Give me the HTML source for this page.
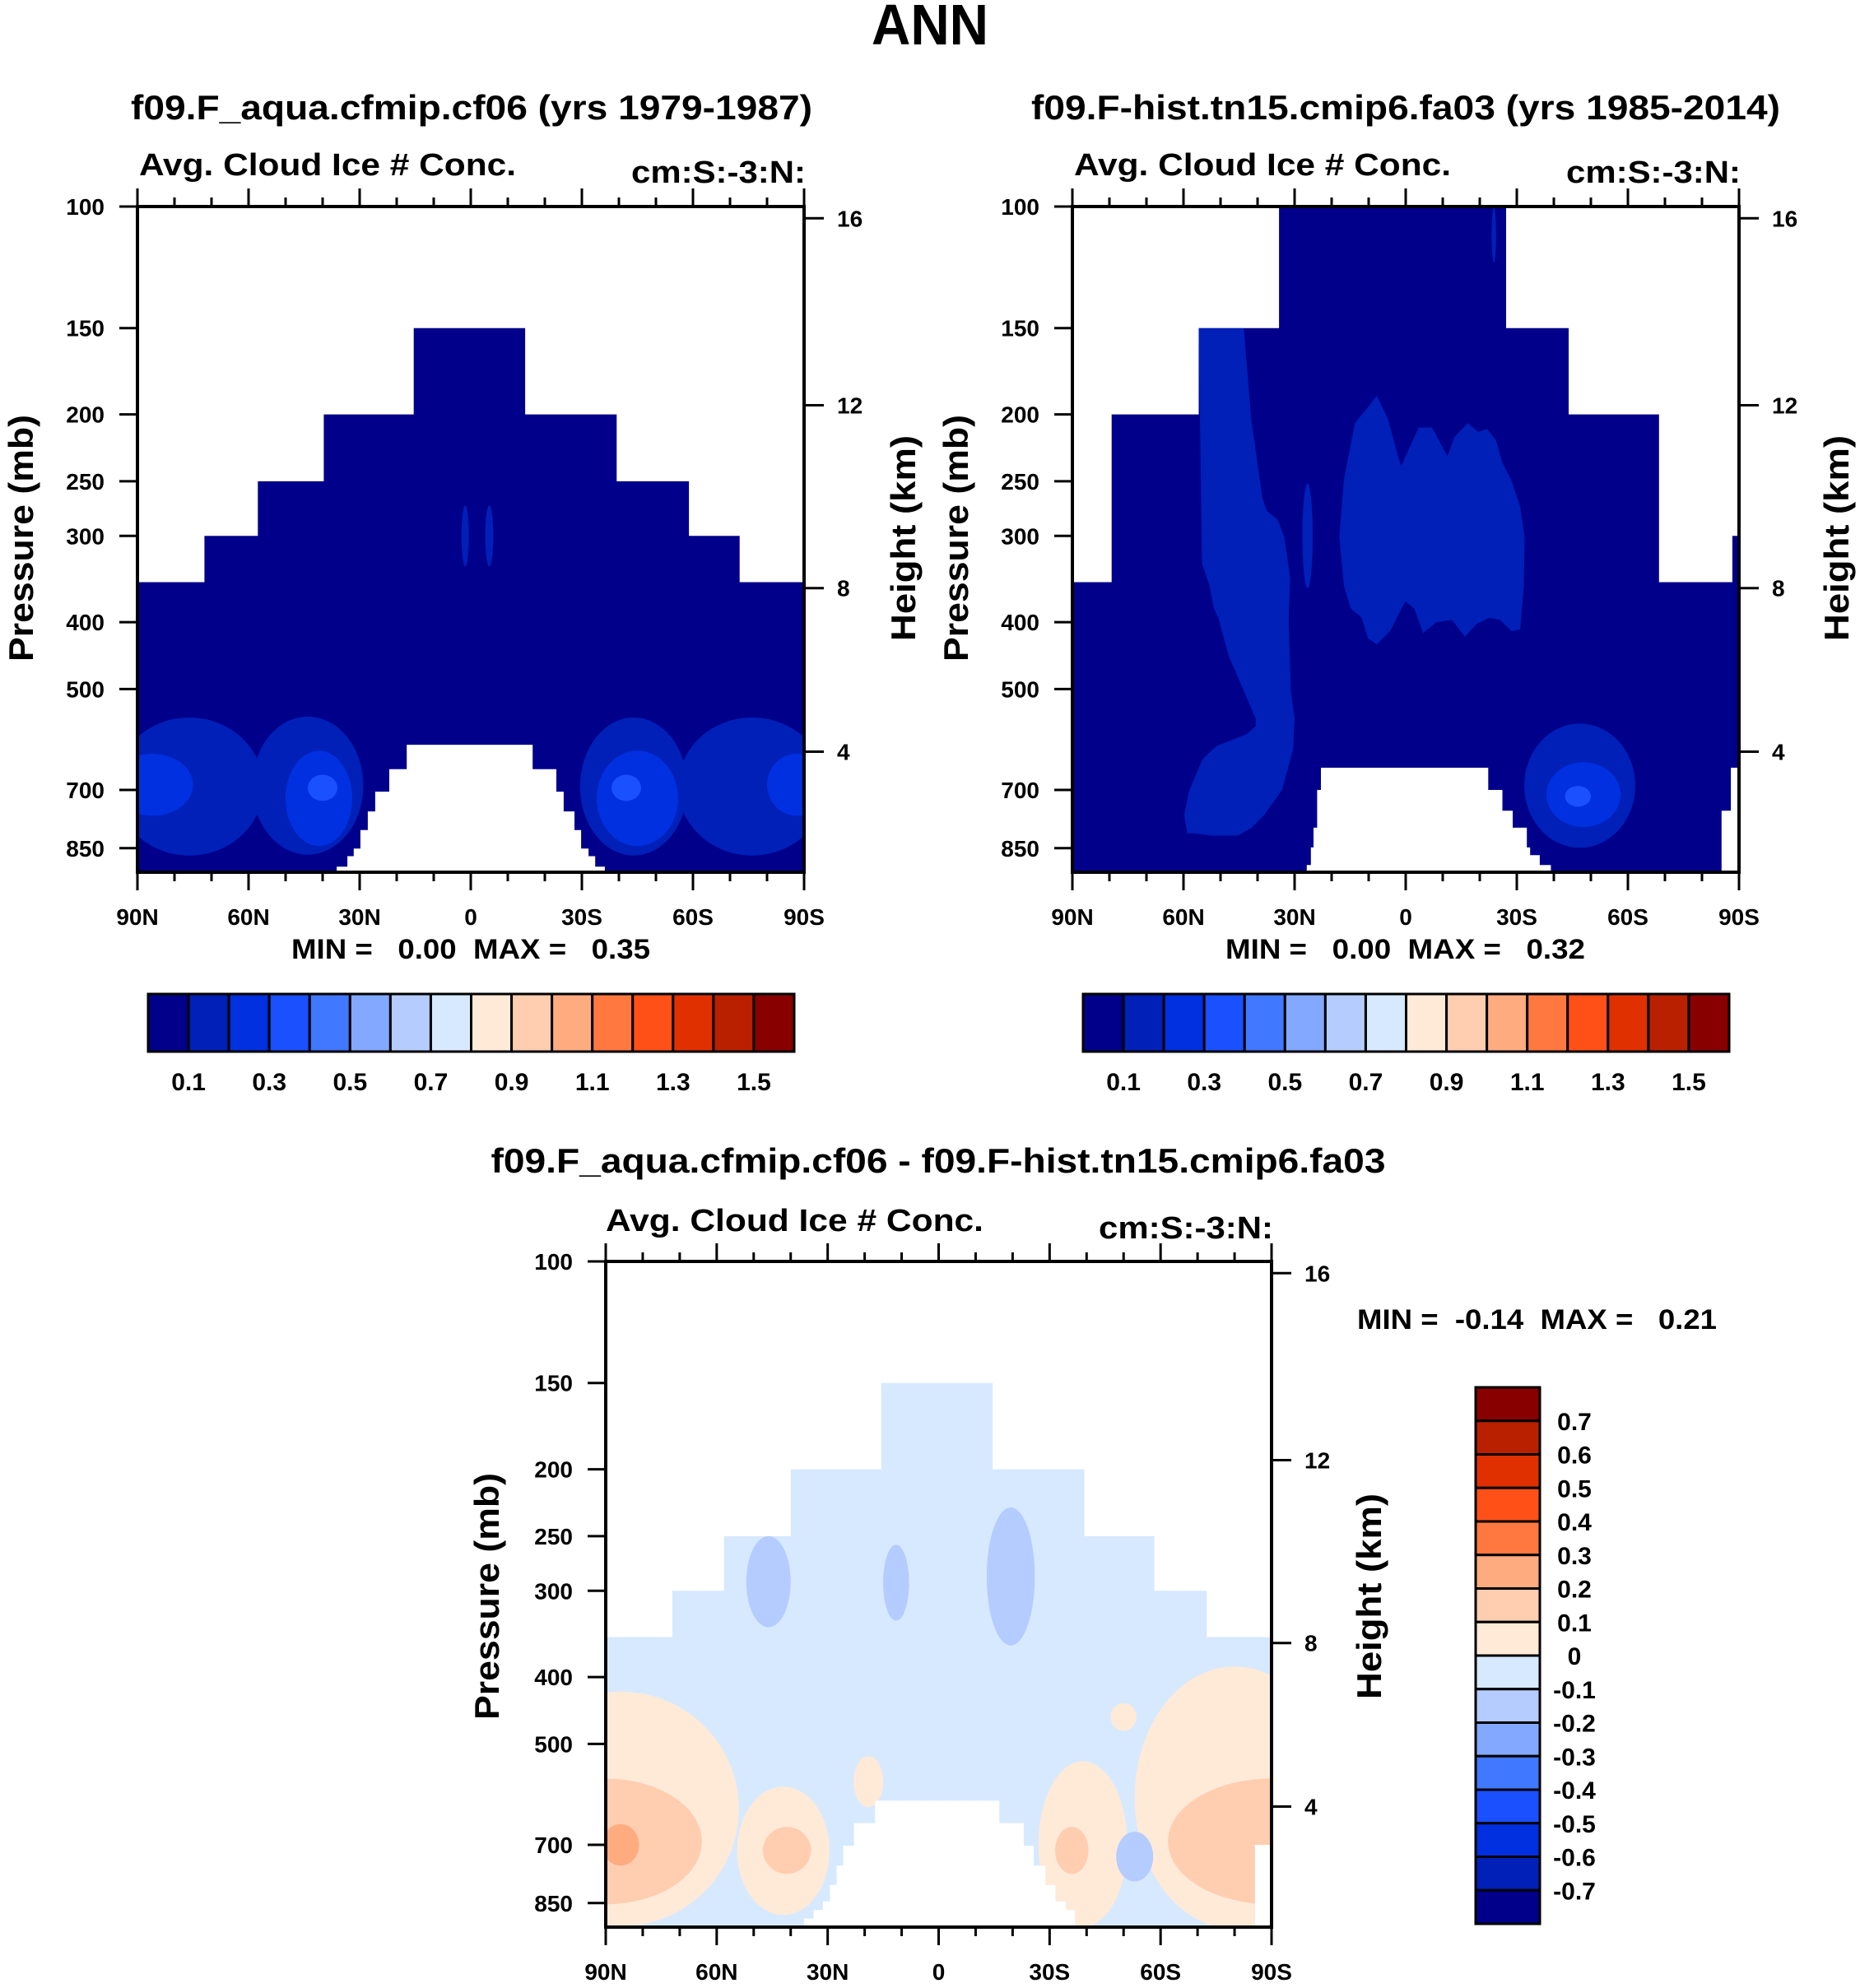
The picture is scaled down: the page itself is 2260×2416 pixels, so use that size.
<!DOCTYPE html>
<html><head><meta charset="utf-8"><style>
html,body{margin:0;padding:0;background:#fff}
svg{display:block}
text{font-family:"Liberation Sans",Arial,sans-serif;font-weight:bold;fill:#000;white-space:pre}
</style></head><body>
<svg id="fig" width="2260" height="2416" viewBox="0 0 2260 2416" xmlns="http://www.w3.org/2000/svg">
<rect x="0" y="0" width="2260" height="2416" fill="#fff"/>
<text x="1130" y="54" font-size="70" text-anchor="middle" textLength="142" lengthAdjust="spacingAndGlyphs">ANN</text>

<text x="573" y="145" font-size="42" text-anchor="middle" textLength="828" lengthAdjust="spacingAndGlyphs">f09.F_aqua.cfmip.cf06 (yrs 1979-1987)</text>
<text x="169" y="213" font-size="38" textLength="458" lengthAdjust="spacingAndGlyphs">Avg. Cloud Ice # Conc.</text>
<text x="979" y="222" font-size="38" text-anchor="end" textLength="212" lengthAdjust="spacingAndGlyphs">cm:S:-3:N:</text>
<text transform="translate(40,654) rotate(-90)" font-size="42" text-anchor="middle" textLength="300" lengthAdjust="spacingAndGlyphs">Pressure (mb)</text>
<text transform="translate(1112,654) rotate(-90)" font-size="42" text-anchor="middle" textLength="250" lengthAdjust="spacingAndGlyphs">Height (km)</text>
<text x="354" y="1165" font-size="34" textLength="436" lengthAdjust="spacingAndGlyphs">MIN =   0.00  MAX =   0.35</text>

<text x="1708" y="145" font-size="42" text-anchor="middle" textLength="910" lengthAdjust="spacingAndGlyphs">f09.F-hist.tn15.cmip6.fa03 (yrs 1985-2014)</text>
<text x="1305" y="213" font-size="38" textLength="458" lengthAdjust="spacingAndGlyphs">Avg. Cloud Ice # Conc.</text>
<text x="2115" y="222" font-size="38" text-anchor="end" textLength="212" lengthAdjust="spacingAndGlyphs">cm:S:-3:N:</text>
<text transform="translate(1176,654) rotate(-90)" font-size="42" text-anchor="middle" textLength="300" lengthAdjust="spacingAndGlyphs">Pressure (mb)</text>
<text transform="translate(2246,654) rotate(-90)" font-size="42" text-anchor="middle" textLength="250" lengthAdjust="spacingAndGlyphs">Height (km)</text>
<text x="1489" y="1165" font-size="34" textLength="437" lengthAdjust="spacingAndGlyphs">MIN =   0.00  MAX =   0.32</text>

<text x="1140" y="1425" font-size="42" text-anchor="middle" textLength="1087" lengthAdjust="spacingAndGlyphs">f09.F_aqua.cfmip.cf06 - f09.F-hist.tn15.cmip6.fa03</text>
<text x="736" y="1496" font-size="38" textLength="459" lengthAdjust="spacingAndGlyphs">Avg. Cloud Ice # Conc.</text>
<text x="1547" y="1505" font-size="38" text-anchor="end" textLength="212" lengthAdjust="spacingAndGlyphs">cm:S:-3:N:</text>
<text transform="translate(606,1940) rotate(-90)" font-size="42" text-anchor="middle" textLength="300" lengthAdjust="spacingAndGlyphs">Pressure (mb)</text>
<text transform="translate(1678,1940) rotate(-90)" font-size="42" text-anchor="middle" textLength="250" lengthAdjust="spacingAndGlyphs">Height (km)</text>
<text x="1649" y="1615" font-size="34" textLength="437" lengthAdjust="spacingAndGlyphs">MIN =  -0.14  MAX =   0.21</text>
<g id="marks"></g>
</svg>
<script>
const PAL=['#00008a','#0020b8','#0030e0','#1a50ff','#4078ff','#82a8ff','#b4ccff','#d6e9ff','#ffead8','#ffcdb0','#ffab80','#ff7840','#ff5018','#e03000','#b82000','#880000'];
const pTicks=[100,150,200,250,300,400,500,700,850];
const latTicks=[90,60,30,0,-30,-60,-90];
const latLabels=['90N','60N','30N','0','30S','60S','90S'];
const kmTicks=[16,12,8,4];
const kmP=[104,194,357,616];
const cb1Labels=['0.1','0.3','0.5','0.7','0.9','1.1','1.3','1.5'];
const cb3Labels=['0.7','0.6','0.5','0.4','0.3','0.2','0.1','0','-0.1','-0.2','-0.3','-0.4','-0.5','-0.6','-0.7'];

// Panel 1 data
const p1TopLat=[90,71.9,57.5,39.7,15.4,-14.7,-39.4,-58.9,-72.6,-90];
const p1TopP=[350,300,250,200,150,200,250,300,350];
const p1BotLat=[90,36.2,33.3,31.6,29.8,27.8,25.8,22,17.3,-16.7,-23.1,-25.1,-28,-29.8,-31.8,-33.6,-36.2,-90];
const p1BotP=[925,904,873,851,800,752,704,653,602,653,704,752,800,851,873,904,925];
const p1EllLat=[76,44,-44,-76,86,41,-45,-88,40,-42,1.5,-5];
const p1EllLatR=[20,15,14.5,20,11,9,11,8,4,4,1,1.1];
const p1EllP=[692,690,692,692,688,720,720,688,695,695,300,300];
const p1EllHalf=[0.1,0.1,0.1,0.1,0.045,0.069,0.069,0.045,0.019,0.019,0.044,0.044];
const p1EllLev=[1,1,1,1,2,2,2,2,3,3,1,1];

// Panel 2 data
const p2TopLat=[90,79.4,55.9,34.2,-27.1,-44,-68.4,-88.2,-90];
const p2TopP=[350,200,150,100,150,200,350,300];
const p2BotLat=[90,26.7,25.6,24.9,23.9,22.9,-22.3,-26.1,-28.9,-32.7,-33.6,-36.2,-39.2,-85.3,-87.8,-90];
const p2BotP=[925,899,848,794,700,650,700,750,794,848,870,899,925,750,650];
const p2BandLat=[55.9,43.7,41.7,38.7,37.5,34.6,32.8,31.2,31.6,31.0,30.0,30.4,33.4,38.1,41.7,45.3,52.4,57.2,59.0,59.8,58.4,54.8,51.2,42.9,40.5,40.5,44.1,47.7,50.6,51.8,53.0,55.0];
const p2BandP=[150,150,203,264,276,284,301,344,397,505,552,612,700,760,795,815,815,809,809,760,700,631,605,581,566,552,497,449,394,382,354,329];
const p2CenLat=[7.8,4.8,1.3,-3.5,-7.1,-11.3,-13.1,-16.7,-19.6,-22,-24.4,-26.1,-28.5,-30.9,-32.1,-31.9,-30.9,-28.5,-25.5,-22.6,-19,-16,-12.5,-8.3,-4.7,-2.3,0.1,4.2,7.8,10.2,11.9,14.9,16.7,17.9,16.7,13.7,10.8];
const p2CenP=[188,203,238,209,209,230,216,206,212,210,218,235,249,272,301,354,410,412,397,394,403,420,397,400,415,382,373,412,431,422,394,382,354,301,249,206,197];
const p2EllLat=[-47,26.5,-48,-46.5,-23.8];
const p2EllLatR=[15,1.4,10,3.5,0.6];
const p2EllP=[690,300,711,715,110];
const p2EllHalf=[0.09,0.076,0.047,0.015,0.04];
const p2EllLev=[1,1,2,3,1];

// Panel 3 data (difference)
const p3TopLat=[90,72,58,40,15.5,-14.6,-39.4,-58.3,-72.5,-90];
const p3TopP=[350,300,250,200,150,200,250,300,350];
const p3BotLat=[90,36.4,33.8,31.3,29.4,27.6,25.8,22.9,17.2,-16.4,-23,-25.7,-28.9,-31.6,-34.4,-36.9,-85.5,-90];
const p3BotP=[925,895,870,845,800,750,702,651,604,651,702,750,800,845,870,925,700];
const p3EllLat=[86,42,19,-39,-80,-50,90,41,-36,-90,86,46,11.5,-19.5,-53];
const p3EllLatR=[32,12.5,4,12,27,3.5,26,6.5,4.5,28,5,6,3.5,6.5,5];
const p3EllP=[621,714,567,698,598,457,692,713,713,692,700,291,292,286,728];
const p3EllHalf=[0.17,0.093,0.037,0.12,0.19,0.02,0.091,0.034,0.034,0.091,0.03,0.066,0.055,0.1,0.036];
const p3EllLev=[8,8,8,8,8,8,9,9,9,9,10,6,6,6,6];

const NS='http://www.w3.org/2000/svg';
const root=document.getElementById('marks');
function mk(tag,attrs,parent){const e=document.createElementNS(NS,tag);for(const k in attrs)e.setAttribute(k,attrs[k]);(parent||root).appendChild(e);return e;}

function panel(id,box,topLat,topP,botLat,botP,baseLev,ells,polys){
  const xOf=lat=>box.x0+(90-lat)/180*(box.x1-box.x0);
  const yOf=p=>Math.min(box.y1,box.y0+839*Math.log10(p/100));
  const g=mk('g',{});
  
  
  // valid region
  let pts=[];
  for(let i=0;i<topP.length;i++){pts.push([xOf(topLat[i]),yOf(topP[i])]);pts.push([xOf(topLat[i+1]),yOf(topP[i])]);}
  for(let j=botP.length-1;j>=0;j--){pts.push([xOf(botLat[j+1]),yOf(botP[j])]);pts.push([xOf(botLat[j]),yOf(botP[j])]);}
  const ptsStr=pts.map(p=>p[0].toFixed(1)+','+p[1].toFixed(1)).join(' ');
  const cp=mk('clipPath',{id:id+'-clip'},g);
  mk('polygon',{points:ptsStr},cp);
  const base=mk('polygon',{points:ptsStr,fill:PAL[baseLev]},g);
  
  
  const cg=mk('g',{'clip-path':'url(#'+id+'-clip)'},g);
  (polys||[]).forEach((pl,k)=>{
    const s=pl.lat.map((la,i)=>xOf(la).toFixed(1)+','+yOf(pl.p[i]).toFixed(1)).join(' ');
    const e=mk('polygon',{points:s,fill:PAL[pl.lev]},cg);
    
    
  });
  for(let i=0;i<ells.lat.length;i++){
    const cy=box.y0+839*Math.log10(ells.p[i]/100);
    const e=mk('ellipse',{cx:xOf(ells.lat[i]),cy:cy,rx:ells.latR[i]*(box.x1-box.x0)/180,ry:ells.half[i]*839,fill:PAL[ells.lev[i]]},cg);
    
    
  }
  // frame
  const fr=mk('rect',{x:box.x0,y:box.y0,width:box.x1-box.x0,height:box.y1-box.y0,fill:'none',stroke:'#000','stroke-width':4},g);
  
  
  // x ticks
  for(let lat=90;lat>=-90;lat-=10){
    const x=xOf(lat);const major=(lat%30===0);const L=major?22:11;
    mk('line',{x1:x,x2:x,y1:box.y1,y2:box.y1+L,stroke:'#000','stroke-width':3},g);
    mk('line',{x1:x,x2:x,y1:box.y0,y2:box.y0-L,stroke:'#000','stroke-width':3},g);
  }
  latTicks.forEach((lat,i)=>{
    const t=mk('text',{x:xOf(lat),y:box.y1+64,'font-size':28,'text-anchor':'middle'},g);
    t.textContent=latLabels[i];
    
    
  });
  pTicks.forEach(p=>{
    const y=yOf(p);
    mk('line',{x1:box.x0-22,x2:box.x0,y1:y,y2:y,stroke:'#000','stroke-width':3},g);
    const t=mk('text',{x:box.x0-40,y:y+10,'font-size':28,'text-anchor':'end'},g);
    t.textContent=String(p);
    
    
  });
  kmTicks.forEach((km,i)=>{
    const y=yOf(kmP[i]);
    mk('line',{x1:box.x1,x2:box.x1+24,y1:y,y2:y,stroke:'#000','stroke-width':3},g);
    const t=mk('text',{x:box.x1+40,y:y+10,'font-size':28},g);
    t.textContent=String(km);
    
    
  });
}

panel('panel1',{x0:167,x1:977,y0:251,y1:1060},p1TopLat,p1TopP,p1BotLat,p1BotP,0,
  {lat:p1EllLat,latR:p1EllLatR,p:p1EllP,half:p1EllHalf,lev:p1EllLev},[]);
panel('panel2',{x0:1303,x1:2113,y0:251,y1:1060},p2TopLat,p2TopP,p2BotLat,p2BotP,0,
  {lat:p2EllLat,latR:p2EllLatR,p:p2EllP,half:p2EllHalf,lev:p2EllLev},
  [{lat:p2BandLat,p:p2BandP,lev:1},{lat:p2CenLat,p:p2CenP,lev:1}]);
panel('panel3',{x0:736,x1:1545,y0:1533,y1:2342},p3TopLat,p3TopP,p3BotLat,p3BotP,7,
  {lat:p3EllLat,latR:p3EllLatR,p:p3EllP,half:p3EllHalf,lev:p3EllLev},[]);

// horizontal colorbars
function hbar(id,x0,x1,y0,y1){
  const w=(x1-x0)/16;
  const g=mk('g',{});
  
  
  for(let i=0;i<16;i++){
    const r=mk('rect',{x:x0+i*w,y:y0,width:w,height:y1-y0,fill:PAL[i],stroke:'#000','stroke-width':3},g);
    
    
  }
  cb1Labels.forEach((lb,k)=>{
    const t=mk('text',{x:x0+(2*k+1)*w,y:y1+47,'font-size':30,'text-anchor':'middle'},g);
    t.textContent=lb;
    
    
  });
}
hbar('colorbar1',180,965,1208,1278);
hbar('colorbar2',1316,2101,1208,1278);
// vertical colorbar
(function(){
  const x0=1793,x1=1871,y0=1686,y1=2338,h=(y1-y0)/16;
  const g=mk('g',{});
  
  
  for(let i=0;i<16;i++){
    const r=mk('rect',{x:x0,y:y0+i*h,width:x1-x0,height:h,fill:PAL[15-i],stroke:'#000','stroke-width':3},g);
    
    
  }
  cb3Labels.forEach((lb,k)=>{
    const t=mk('text',{x:1913,y:y0+(k+1)*h+11,'font-size':30,'text-anchor':'middle'},g);
    t.textContent=lb;
    
    
  });
})();
</script>
</body></html>
